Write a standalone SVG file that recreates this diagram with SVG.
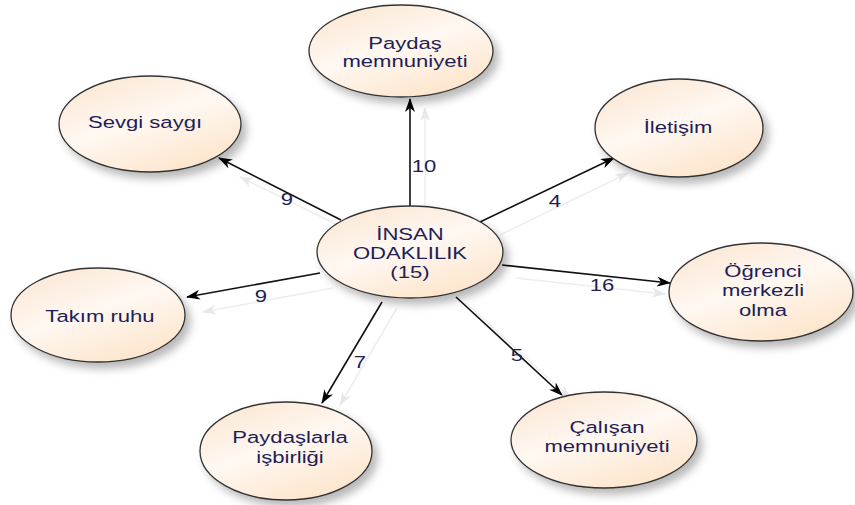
<svg xmlns="http://www.w3.org/2000/svg" width="855" height="505" viewBox="0 0 855 505">
  <defs>
    <linearGradient id="nodeFill" x1="0.2" y1="0" x2="0.8" y2="1">
      <stop offset="0" stop-color="#fbe7d4"/>
      <stop offset="0.45" stop-color="#fff8f2"/>
      <stop offset="1" stop-color="#fde3c8"/>
    </linearGradient>
    <filter id="nodeShadow" x="-20%" y="-20%" width="150%" height="160%">
      <feDropShadow dx="5" dy="6" stdDeviation="4" flood-color="#000" flood-opacity="0.28"/>
    </filter>
    <marker id="arrow" viewBox="0 0 14 10" refX="13" refY="5" markerWidth="14" markerHeight="10" markerUnits="userSpaceOnUse" orient="auto">
      <path d="M0,0 L14,5 L0,10 L4,5 z" fill="#000"/>
    </marker>
    <marker id="arrowFaint" viewBox="0 0 14 10" refX="13" refY="5" markerWidth="14" markerHeight="10" markerUnits="userSpaceOnUse" orient="auto">
      <path d="M0,0 L14,5 L0,10 L4,5 z" fill="#e8e8e8"/>
    </marker>
    <style>
      .node ellipse { fill: url(#nodeFill); stroke: #333; stroke-width: 1.3; filter: url(#nodeShadow); }
      .node text, .lbl { font-family: "Liberation Sans", Arial, sans-serif; font-size: 17px; fill: #221e55; text-anchor: middle; }
      .edge { stroke: #111; stroke-width: 1.6; fill: none; marker-end: url(#arrow); }
      .ghost { stroke: #eeeeee; stroke-width: 1.6; fill: none; marker-end: url(#arrowFaint); }
    </style>
  </defs>

  <rect width="855" height="505" fill="#fff"/>

  <!-- connectors: faint offset copies first, then the drawn edges and their weights -->
  <g id="connectors">
    <line class="ghost" x1="425" y1="210" x2="425" y2="108"/>
    <line class="ghost" x1="352" y1="232" x2="240" y2="177"/>
    <line class="ghost" x1="500" y1="235" x2="628" y2="173"/>
    <line class="ghost" x1="333" y1="288" x2="203" y2="312"/>
    <line class="ghost" x1="515" y1="278" x2="665" y2="294"/>
    <line class="ghost" x1="397" y1="308" x2="340" y2="405"/>
    <line class="ghost" x1="466" y1="303" x2="570" y2="398"/>

    <line class="edge" x1="410" y1="206" x2="410" y2="99"/>
    <line class="edge" x1="341" y1="220" x2="219" y2="158"/>
    <line class="edge" x1="480" y1="222" x2="614" y2="158"/>
    <line class="edge" x1="320" y1="273" x2="187" y2="297"/>
    <line class="edge" x1="502" y1="265" x2="670" y2="283"/>
    <line class="edge" x1="382" y1="302" x2="322" y2="403"/>
    <line class="edge" x1="456" y1="297" x2="562" y2="395"/>

    <text class="lbl" transform="translate(424 172) scale(1.3 1)">10</text>
    <text class="lbl" transform="translate(287 205) scale(1.3 1)">9</text>
    <text class="lbl" transform="translate(555 207) scale(1.3 1)">4</text>
    <text class="lbl" transform="translate(261 302) scale(1.3 1)">9</text>
    <text class="lbl" transform="translate(602 291) scale(1.3 1)">16</text>
    <text class="lbl" transform="translate(360 368) scale(1.3 1)">7</text>
    <text class="lbl" transform="translate(517 361) scale(1.3 1)">5</text>
  </g>

  <g id="insan-odaklilik" class="node">
    <ellipse cx="410" cy="252" rx="93" ry="46"/>
    <text transform="translate(410 240) scale(1.3 1)">İNSAN</text>
    <text transform="translate(410 259) scale(1.3 1)">ODAKLILIK</text>
    <text transform="translate(410 278) scale(1.3 1)">(15)</text>
  </g>

  <g id="paydas-memnuniyeti" class="node">
    <ellipse cx="401" cy="51" rx="92" ry="46"/>
    <text transform="translate(405 49) scale(1.3 1)">Paydaş</text>
    <text transform="translate(405 67) scale(1.3 1)">memnuniyeti</text>
  </g>

  <g id="sevgi-saygi" class="node">
    <ellipse cx="150" cy="124" rx="91" ry="48"/>
    <text transform="translate(145 128) scale(1.3 1)">Sevgi saygı</text>
  </g>

  <g id="iletisim" class="node">
    <ellipse cx="679" cy="128" rx="84" ry="49"/>
    <text transform="translate(678 133) scale(1.3 1)">İletişim</text>
  </g>

  <g id="takim-ruhu" class="node">
    <ellipse cx="98" cy="315" rx="87" ry="47"/>
    <text transform="translate(100 322) scale(1.3 1)">Takım ruhu</text>
  </g>

  <g id="ogrenci-merkezli" class="node">
    <ellipse cx="761" cy="292" rx="92" ry="49"/>
    <text transform="translate(763 277) scale(1.3 1)">Öğrenci</text>
    <text transform="translate(763 296) scale(1.3 1)">merkezli</text>
    <text transform="translate(763 316) scale(1.3 1)">olma</text>
  </g>

  <g id="paydaslarla-isbirligi" class="node">
    <ellipse cx="286" cy="451" rx="86" ry="49"/>
    <text transform="translate(290 443) scale(1.3 1)">Paydaşlarla</text>
    <text transform="translate(290 463) scale(1.3 1)">işbirliği</text>
  </g>

  <g id="calisan-memnuniyeti" class="node">
    <ellipse cx="604" cy="440" rx="93" ry="48"/>
    <text transform="translate(607 433) scale(1.3 1)">Çalışan</text>
    <text transform="translate(607 452) scale(1.3 1)">memnuniyeti</text>
  </g>
</svg>
